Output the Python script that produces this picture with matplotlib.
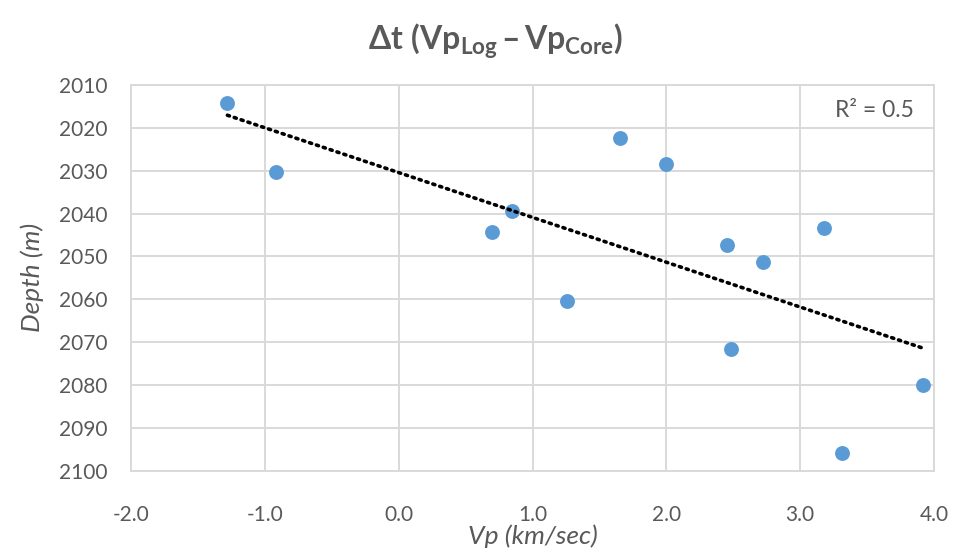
import matplotlib

matplotlib.use("Agg")
import matplotlib.pyplot as plt
import numpy as np

# Velocity difference (km/sec) vs sample depth (m)
vp_diff = [-1.28, -0.92, 0.85, 0.70, 1.26, 1.65, 2.00, 2.45, 2.72, 3.18, 2.48, 3.92, 3.31]
depth = [2014.2, 2030.3, 2039.4, 2044.3, 2060.5, 2022.4, 2028.5, 2047.4, 2051.4, 2043.3, 2071.7, 2079.9, 2095.8]

x_ticks = [-2.0, -1.0, 0.0, 1.0, 2.0, 3.0, 4.0]
y_ticks = [2010, 2020, 2030, 2040, 2050, 2060, 2070, 2080, 2090, 2100]
r2_label = "R\u00b2 = 0.5"

TEXT = "#595959"
GRID = "#d9d9d9"
POINT = "#5b9bd5"

plt.rcParams.update({
    "font.family": ["Lato", "DejaVu Sans"],
    "mathtext.fontset": "custom",
    "mathtext.rm": "Lato",
    "mathtext.bf": "Lato:bold",
    "mathtext.it": "Lato:italic",
})

fig = plt.figure(figsize=(9.57, 5.49), dpi=100)
ax = fig.add_axes([0.1369, 0.1426, 0.8391, 0.7026])

ax.set_xlim(-2.0, 4.0)
ax.set_ylim(2100, 2010)
ax.set_xticks(x_ticks)
ax.set_xticklabels([f"{t:.1f}" for t in x_ticks])
ax.set_yticks(y_ticks)
ax.grid(True, color=GRID, lw=1.4)
ax.set_axisbelow(True)
for s in ax.spines.values():
    s.set_color(GRID)
    s.set_linewidth(1.4)
ax.tick_params(length=0, labelsize=15, labelcolor=TEXT)
ax.tick_params(axis="x", pad=25)
ax.tick_params(axis="y", pad=17)

ax.scatter(vp_diff, depth, s=115, color=POINT, zorder=3, linewidths=0)

# linear trendline of depth on Vp, drawn across the data range
x = np.array(vp_diff)
slope, icpt = np.polyfit(x, depth, 1)
xl = np.array([x.min(), x.max()])
ax.plot(xl, slope * xl + icpt, color="black", lw=2.6,
        linestyle=(0, (0.6, 1.4)), dash_capstyle="round", zorder=4)

ax.text(0.975, 0.935, r2_label, transform=ax.transAxes, ha="right", va="center",
        fontsize=16.5, color=TEXT)

ax.set_xlabel("Vp (km/sec)", fontsize=19, style="italic", color=TEXT, labelpad=-1)
ax.set_ylabel("Depth (m)", fontsize=19, style="italic", color=TEXT, labelpad=11)

fig.text(0.518, 0.925, r"$\mathbf{\Delta t\ (Vp_{Log}\,}$–$\mathbf{\,Vp_{Core})}$",
         ha="center", va="center", fontsize=23, color=TEXT, fontweight="bold")

fig.savefig("out.png", dpi=100, facecolor="white")
